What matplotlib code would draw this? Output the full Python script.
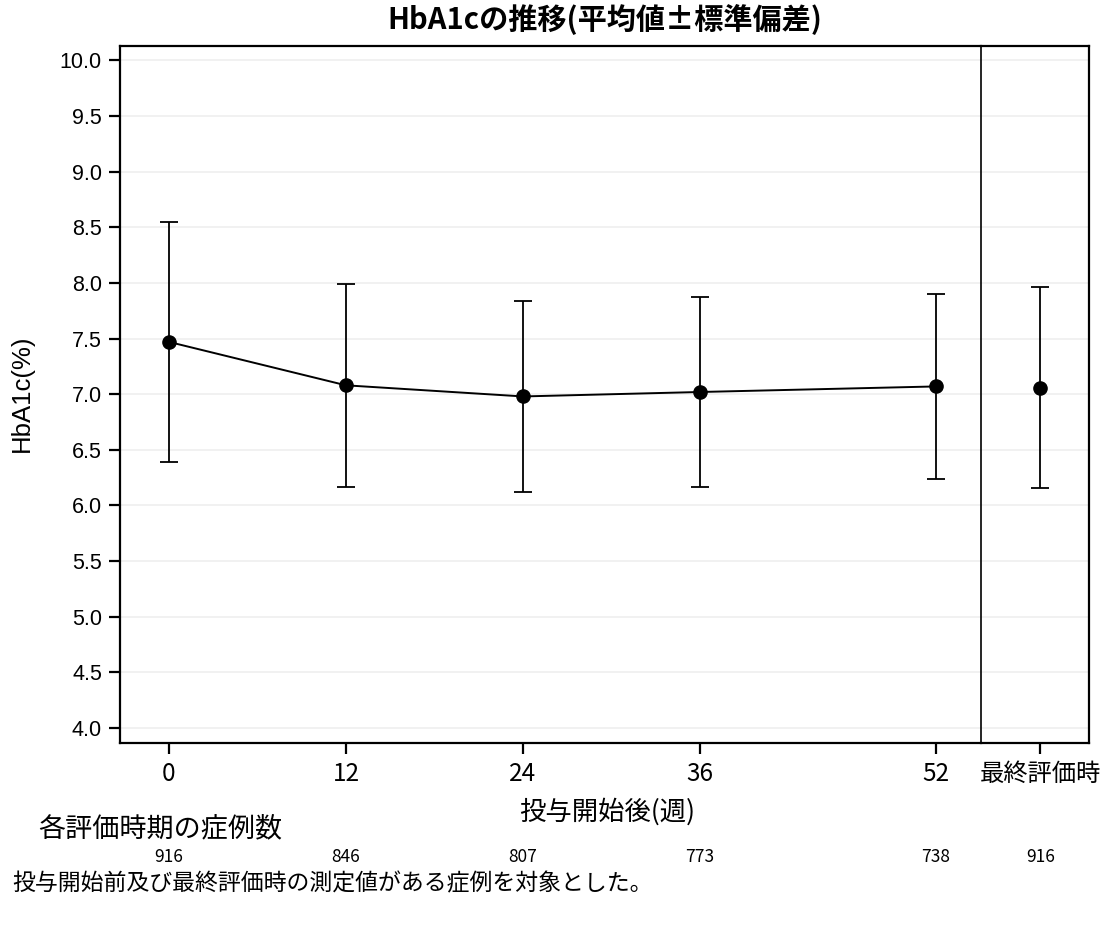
import matplotlib
matplotlib.use("Agg")
import matplotlib.pyplot as plt
import matplotlib.transforms as mtransforms

plt.rcParams['font.family'] = ['Noto Sans CJK JP', 'DejaVu Sans']

# データ
weeks = [0, 12, 24, 36, 52]
mean_hba1c = [7.47, 7.08, 6.98, 7.02, 7.07]
sd_hba1c = [1.08, 0.91, 0.86, 0.85, 0.83]
final_mean = 7.06
final_sd = 0.90
final_label = "最終評価時"
n_cases = [916, 846, 807, 773, 738]
n_final = 916
yticks = [4.0, 4.5, 5.0, 5.5, 6.0, 6.5, 7.0, 7.5, 8.0, 8.5, 9.0, 9.5, 10.0]

W, H = 1111, 930
fig = plt.figure(figsize=(W / 100, H / 100), dpi=100)

# 軸の位置（ピクセルから換算）
x_left, x_div, x_right = 120, 981, 1089
y_top, y_bot = 46, 743
ax = fig.add_axes([x_left / W, (H - y_bot) / H, (x_div - x_left) / W, (y_bot - y_top) / H])
ax2 = fig.add_axes([x_div / W, (H - y_bot) / H, (x_right - x_div) / W, (y_bot - y_top) / H], sharey=ax)

ylim = (3.865, 10.13)
err_kw = dict(fmt='none', ecolor='black', elinewidth=1.3, capsize=6.5, capthick=1.3, zorder=3)

# 推移（週）
ax.errorbar(weeks, mean_hba1c, yerr=sd_hba1c, **err_kw)
ax.plot(weeks, mean_hba1c, color='black', lw=1.4, marker='o', markersize=9.5, zorder=4)
ax.set_xlim(-3.32, 55.05)
ax.set_ylim(*ylim)
ax.set_xticks(weeks)
ax.set_xticklabels([str(w) for w in weeks], fontsize=17.5)
ax.set_yticks(yticks)
ax.set_yticklabels([f"{v:.1f}" for v in yticks], fontsize=15.5, family='Liberation Sans')
ax.grid(axis='y', color='#efefef', lw=1.2, zorder=0)
ax.set_axisbelow(True)
ax.tick_params(axis='both', length=8, width=1.6, pad=5)
for s in ['left', 'bottom', 'top']:
    ax.spines[s].set_linewidth(1.6)
ax.spines['right'].set_visible(False)

# 最終評価時
ax2.patch.set_visible(False)
ax2.errorbar([0], [final_mean], yerr=[final_sd], **err_kw)
ax2.plot([0], [final_mean], color='black', marker='o', markersize=9.5, zorder=4, ls='none')
ax2.set_xlim(-0.55, 0.45)
ax2.set_xticks([0])
ax2.set_xticklabels([final_label], fontsize=17.5)
ax2.grid(axis='y', color='#efefef', lw=1.2, zorder=0)
ax2.set_axisbelow(True)
ax2.tick_params(axis='x', length=8, width=1.6, pad=5)
ax2.tick_params(axis='y', left=False, labelleft=False)
ax2.spines['left'].set_linewidth(1.2)
for s in ['right', 'bottom', 'top']:
    ax2.spines[s].set_linewidth(1.6)

# テキスト
fig.text(605 / W, 1 - 20 / H, "HbA1cの推移(平均値±標準偏差)", ha='center', va='center',
         fontsize=21, fontweight='bold')
fig.text(22 / W, 1 - 393 / H, "HbA1c(%)", rotation=90, ha='center', va='center',
         fontsize=18.5, family='Liberation Sans')
fig.text(607 / W, 1 - 812 / H, "投与開始後(週)", ha='center', va='center', fontsize=19)
fig.text(38 / W, 1 - 829 / H, "各評価時期の症例数", ha='left', va='center', fontsize=19.5)

yf = 1 - 857 / H
tr = mtransforms.blended_transform_factory(ax.transData, fig.transFigure)
for w, n in zip(weeks, n_cases):
    fig.text(w, yf, str(n), transform=tr, ha='center', va='center', fontsize=12.5)
tr2 = mtransforms.blended_transform_factory(ax2.transData, fig.transFigure)
fig.text(0, yf, str(n_final), transform=tr2, ha='center', va='center', fontsize=12.5)

fig.text(12 / W, 1 - 884 / H, "投与開始前及び最終評価時の測定値がある症例を対象とした。",
         ha='left', va='center', fontsize=16.5)

fig.savefig("out.png", dpi=100)
